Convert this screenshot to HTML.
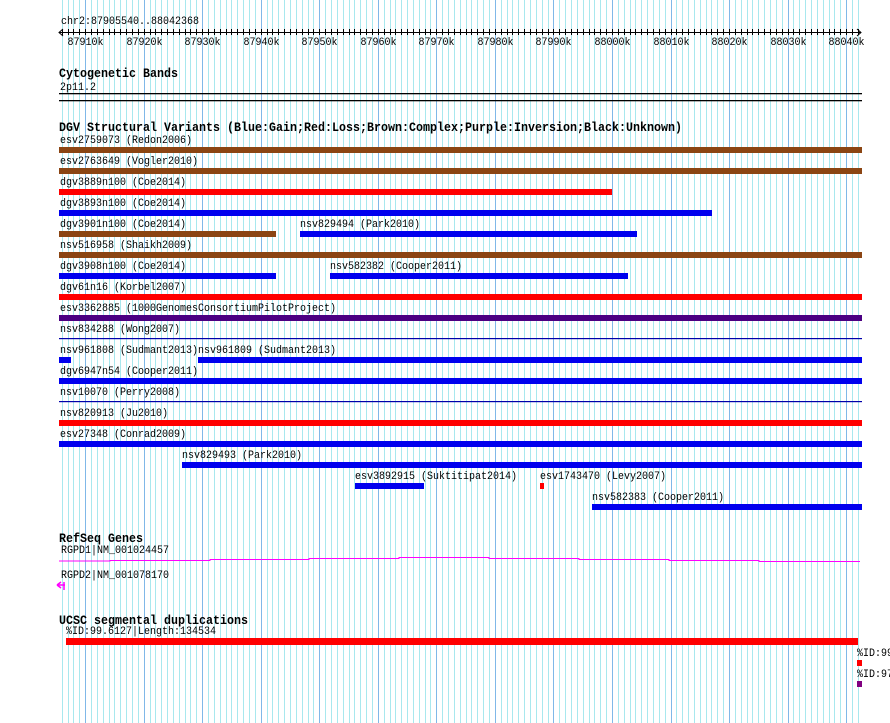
<!DOCTYPE html>
<html><head><meta charset="utf-8"><style>
html,body{margin:0;padding:0;background:#fff;}
svg{display:block;}
text{font-family:"Liberation Mono",monospace;font-size:11px;fill:#000;}
.b{font-weight:bold;font-size:12.5px;}
</style></head><body>
<svg id="s" width="890" height="723" xmlns="http://www.w3.org/2000/svg">
<g id="grid"></g>
<g id="axis"></g>
<text x="61" y="24">chr2:87905540..88042368</text>
<text class="b" x="59" y="77">Cytogenetic Bands</text>
<text x="60" y="90">2p11.2</text>
<rect x="59" y="93" width="803" height="1.3" fill="#000"/>
<rect x="59" y="100" width="803" height="1.3" fill="#000"/>
<text class="b" x="59" y="131">DGV Structural Variants (Blue:Gain;Red:Loss;Brown:Complex;Purple:Inversion;Black:Unknown)</text>
<g id="rows"></g>
<text class="b" x="59" y="542">RefSeq Genes</text>
<text x="61" y="553">RGPD1|NM_001024457</text>
<path d="M59 561H110V560.5H210V559.5H309V558.5H399V557.5H489V558.5H579V559.5H669V560.5H759V561.5H860" stroke="#ff00ff" stroke-width="1" fill="none"/>
<text x="61" y="578">RGPD2|NM_001078170</text>
<path d="M57 585L61 582M57 585L61 588M57 585H65M64 582V590" stroke="#ff00ff" stroke-width="1.5" fill="none"/>
<text class="b" x="59" y="624">UCSC segmental duplications</text>
<text x="66" y="634">%ID:99.6127|Length:134534</text>
<rect x="66" y="638" width="792" height="7" fill="#ff0000"/>
<text x="857" y="656">%ID:99</text>
<rect x="857" y="660" width="5" height="6" fill="#ff0000"/>
<text x="857" y="677">%ID:97</text>
<rect x="857" y="681" width="5" height="6" fill="#800080"/>
</svg>
<script>
var NS="http://www.w3.org/2000/svg";
function X(p){return 59+(p-87905540)*801/136828;}
function el(t,a,par,txt){var e=document.createElementNS(NS,t);for(var k in a)e.setAttribute(k,a[k]);if(txt)e.textContent=txt;document.getElementById(par).appendChild(e);return e;}
for(var k=87906;k<=88042;k++){var x=Math.round(X(k*1000))+0.5;var maj=(k%10==0);
el('line',{x1:x,x2:x,y1:0,y2:723,stroke:maj?'#80b8e8':'#a8e8ee','stroke-width':1},'grid');
el('line',{x1:x,x2:x,y1:29,y2:35,stroke:'#000','stroke-width':1},'axis');
if(maj)el('text',{x:x-18,y:45},'axis',k+'k');}
el('line',{x1:59,x2:861,y1:32.5,y2:32.5,stroke:'#000'},'axis');
el('path',{d:'M63 29L59 32.5L63 36M857 29L861 32.5L857 36',stroke:'#000',fill:'none'},'axis');
var B='#0000ee',R='#ff0000',N='#8b4513',P='#4b0082';
var rows=[
[147,[[59,'esv2759073 (Redon2006)',59,862,N]]],
[168,[[59,'esv2763649 (Vogler2010)',59,862,N]]],
[189,[[59,'dgv3889n100 (Coe2014)',59,612,R]]],
[210,[[59,'dgv3893n100 (Coe2014)',59,712,B]]],
[231,[[59,'dgv3901n100 (Coe2014)',59,276,N],[299,'nsv829494 (Park2010)',300,637,B]]],
[252,[[59,'nsv516958 (Shaikh2009)',59,862,N]]],
[273,[[59,'dgv3908n100 (Coe2014)',59,276,B],[329,'nsv582382 (Cooper2011)',330,628,B]]],
[294,[[59,'dgv61n16 (Korbel2007)',59,862,R]]],
[315,[[59,'esv3362885 (1000GenomesConsortiumPilotProject)',59,862,P]]],
[336,[[59,'nsv834288 (Wong2007)',59,862,'#0000aa',1]]],
[357,[[59,'nsv961808 (Sudmant2013)',59,71,B],[197,'nsv961809 (Sudmant2013)',198,862,B]]],
[378,[[59,'dgv6947n54 (Cooper2011)',59,862,B]]],
[399,[[59,'nsv10070 (Perry2008)',59,862,'#0000aa',1]]],
[420,[[59,'nsv820913 (Ju2010)',59,862,R]]],
[441,[[59,'esv27348 (Conrad2009)',59,862,B]]],
[462,[[181,'nsv829493 (Park2010)',182,862,B]]],
[483,[[354,'esv3892915 (Suktitipat2014)',355,424,B],[539,'esv1743470 (Levy2007)',540,544,R]]],
[504,[[591,'nsv582383 (Cooper2011)',592,862,B]]]];
rows.forEach(function(r){var y=r[0];r[1].forEach(function(f){
el('text',{x:f[0]+1,y:y-4},'rows',f[1]);
if(f[5])el('rect',{x:f[2],y:y+2,width:f[3]-f[2],height:1.2,fill:f[4]},'rows');
else el('rect',{x:f[2],y:y,width:f[3]-f[2],height:6,fill:f[4]},'rows');});});
var ts=document.getElementsByTagName('text');
for(var i=0;i<ts.length;i++){var t=ts[i];var w=t.getAttribute('class')=='b'?7:6;
t.setAttribute('textLength',t.textContent.length*w);t.setAttribute('lengthAdjust','spacingAndGlyphs');}
</script>
</body></html>
